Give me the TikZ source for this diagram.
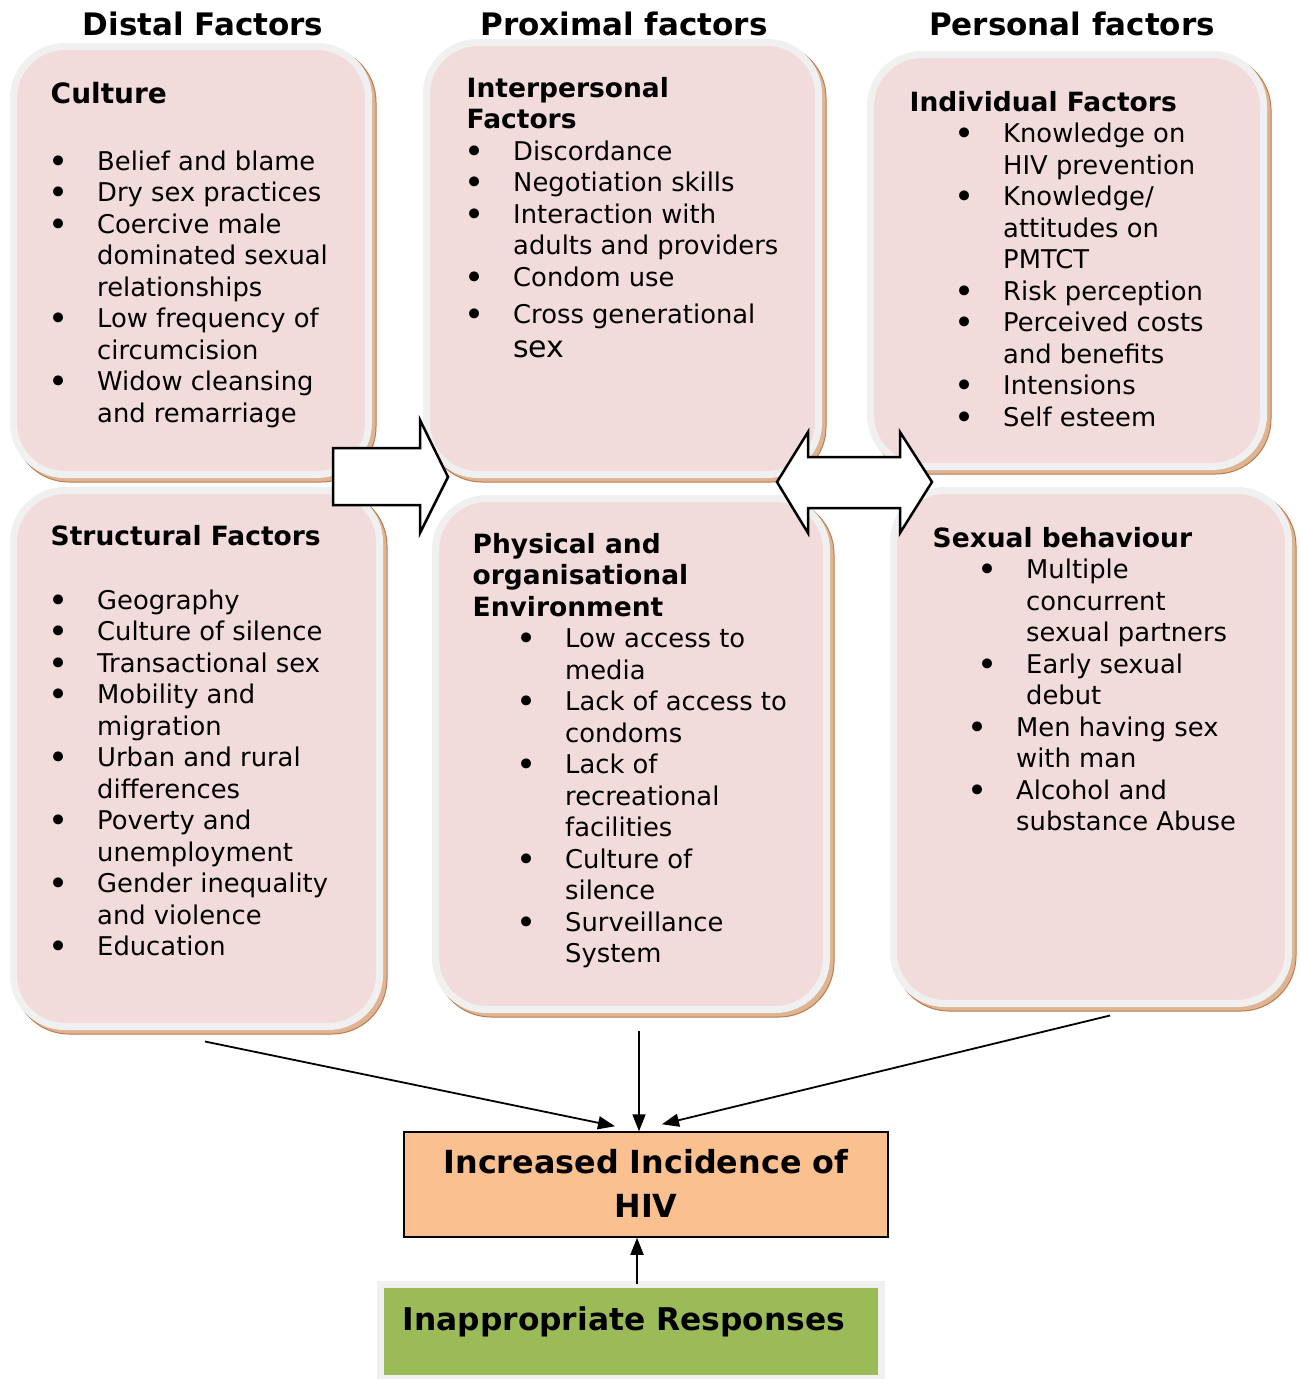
\documentclass[tikz,border=0pt]{standalone}
\usepackage{fontspec}
\setmainfont{DejaVu Sans}
\usetikzlibrary{arrows.meta,calc}
\definecolor{pinkfill}{HTML}{F2DCDB}
\definecolor{rimgray}{HTML}{F0F0F0}
\definecolor{shadowtan}{HTML}{DFB495}
\definecolor{shadowline}{HTML}{BE7A48}
\definecolor{orangefill}{HTML}{FAC090}
\definecolor{greenfill}{HTML}{9BBB59}
\newlength\bulw
\newlength\indw
\newcommand\bigbul{\hspace*{-2.5pt}\raisebox{-3pt}{\fontsize{34}{34}\selectfont •}}
\newcommand\bitem[2][\indw]{\hspace*{#1}\makebox[\bulw][l]{\bigbul}#2}
\newcommand\citem[2][\indw]{\hspace*{#1}\hspace*{\bulw}#2}
\newcommand\ttl[1]{{\fontsize{26.5}{31.5}\selectfont\bfseries #1}}
\newcommand\factorbox[5]{%
  \path[boxshadow] (#2+4,#3+4) rectangle (#4+4,#5+4);
  \node[factor, minimum width={#4-#2-7}, minimum height={#5-#3-7}] (#1) at ({(#2+#4)/2},{(#3+#5)/2}) {};
}
\begin{document}
\begin{tikzpicture}[x=1pt,y=-1pt,
  factor/.style={draw=rimgray, line width=7pt, fill=pinkfill, rounded corners=51.5pt, inner sep=0pt},
  boxshadow/.style={fill=shadowtan, draw=shadowline, line width=1pt, rounded corners=55pt},
  body/.style={anchor=base west, inner sep=0pt, font=\fontsize{25.8}{31.5}\selectfont},
  header/.style={anchor=base, inner sep=0pt, font=\fontsize{31}{36}\selectfont\bfseries},
  blockarrow/.style={draw=black, line width=2.5pt, fill=white, line join=miter},
  link/.style={draw=black, line width=1.8pt, -{Triangle[length=17pt,width=13pt]}},
  ]
\useasboundingbox[fill=white] (0,0) rectangle (1299,1379);

% headers
\node[header] (hdistal) at (203,35) {Distal Factors};
\node[header] (hprox) at (624,35) {Proximal factors};
\node[header] (hpers) at (1072,35) {Personal factors};

% factor boxes
\factorbox{culture}{10}{43}{372}{478}
\factorbox{interp}{423}{39}{822}{478}
\factorbox{indiv}{867}{51}{1267}{470}
\factorbox{struct}{10}{487}{383}{1030}
\factorbox{phys}{432}{495}{830}{1013}
\factorbox{sexual}{890}{487}{1292}{1007}

% texts
\node[body] (culturetxt) at (50.5,103) {\setlength\bulw{46.5pt}\setlength\indw{0pt}%
\begin{tabular}[t]{@{}l@{}}
{\fontsize{28}{31.5}\selectfont\bfseries Culture}\\[35.5pt]
\bitem{Belief and blame}\\
\bitem{Dry sex practices}\\
\bitem{Coercive male}\\
\citem{dominated sexual}\\
\citem{relationships}\\
\bitem{Low frequency of}\\
\citem{circumcision}\\
\bitem{Widow cleansing}\\
\citem{and remarriage}
\end{tabular}};

\node[body] (interptxt) at (466.5,97) {\setlength\bulw{46.5pt}\setlength\indw{0pt}%
\begin{tabular}[t]{@{}l@{}}
\ttl{Interpersonal}\\
\ttl{Factors}\\
\bitem{Discordance}\\
\bitem{Negotiation skills}\\
\bitem{Interaction with}\\
\citem{adults and providers}\\
\bitem{Condom use}\\[5.5pt]
\bitem{Cross generational}\\[2.5pt]
\citem{\fontsize{30}{34}\selectfont sex}
\end{tabular}};

\node[body] (indivtxt) at (909.5,111) {\setlength\bulw{46pt}\setlength\indw{47.5pt}%
\begin{tabular}[t]{@{}l@{}}
\ttl{Individual Factors}\\
\bitem{Knowledge on}\\
\citem{HIV prevention}\\
\bitem{Knowledge/}\\
\citem{attitudes on}\\
\citem{PMTCT}\\
\bitem{Risk perception}\\
\bitem{Perceived costs}\\
\citem{and benefits}\\
\bitem{Intensions}\\
\bitem{Self esteem}
\end{tabular}};

\node[body] (structtxt) at (50.5,545) {\setlength\bulw{46.5pt}\setlength\indw{0pt}%
\begin{tabular}[t]{@{}l@{}}
\ttl{Structural Factors}\\[32.5pt]
\bitem{Geography}\\
\bitem{Culture of silence}\\
\bitem{Transactional sex}\\
\bitem{Mobility and}\\
\citem{migration}\\
\bitem{Urban and rural}\\
\citem{differences}\\
\bitem{Poverty and}\\
\citem{unemployment}\\
\bitem{Gender inequality}\\
\citem{and violence}\\
\bitem{Education}
\end{tabular}};

\node[body] (physttxt) at (472.5,553) {\setlength\bulw{46pt}\setlength\indw{46.5pt}%
\begin{tabular}[t]{@{}l@{}}
\ttl{Physical and}\\
\ttl{organisational}\\
\ttl{Environment}\\
\bitem{Low access to}\\
\citem{media}\\
\bitem{Lack of access to}\\
\citem{condoms}\\
\bitem{Lack of}\\
\citem{recreational}\\
\citem{facilities}\\
\bitem{Culture of}\\
\citem{silence}\\
\bitem{Surveillance}\\
\citem{System}
\end{tabular}};

\node[body] (sexualtxt) at (932.5,547) {\setlength\bulw{46pt}\setlength\indw{47.5pt}%
\begin{tabular}[t]{@{}l@{}}
\ttl{Sexual behaviour}\\
\bitem{Multiple}\\
\citem{concurrent}\\
\citem{sexual partners}\\
\bitem{Early sexual}\\
\citem{debut}\\
\bitem[37.5pt]{Men having sex}\\
\citem[37.5pt]{with man}\\
\bitem[37.5pt]{Alcohol and}\\
\citem[37.5pt]{substance Abuse}
\end{tabular}};

% outcome boxes
\node[draw=black, line width=1.5pt, fill=orangefill, minimum width=484pt, minimum height=105pt, inner sep=0pt] (hiv) at (646,1184.5) {};
\node[anchor=base, inner sep=0pt, font=\fontsize{31.8}{44}\selectfont\bfseries] (hivtxt) at (646,1173)
  {\begin{tabular}[t]{@{}c@{}}Increased Incidence of\\HIV\end{tabular}};

\node[draw=rimgray, line width=7pt, fill=greenfill, minimum width=501pt, minimum height=94pt, inner sep=0pt] (resp) at (631,1331.5) {};
\node[anchor=base west, inner sep=0pt, font=\fontsize{31.3}{36}\selectfont\bfseries] (resptxt) at (402.5,1330) {Inappropriate Responses};

% block arrows
\draw[blockarrow] (333,448) -- (420,448) -- (420,420) -- (448,477) -- (420,533) -- (420,505) -- (333,505) -- cycle;
\draw[blockarrow] (777,482) -- (808,432) -- (808,457) -- (900,457) -- (900,432) -- (932,482) -- (900,533) -- (900,508) -- (808,508) -- (808,533) -- cycle;

% connectors
\coordinate (s1) at ($(struct.south)+(8.5,11.5)$);
\coordinate (e1) at ($(hiv.north)+(-31,-5)$);
\coordinate (s2) at ($(phys.south)+(8,17.5)$);
\coordinate (e2) at ($(hiv.north)+(-7,0)$);
\coordinate (s3) at ($(sexual.south)+(19,8.5)$);
\coordinate (e3) at ($(hiv.north)+(16,-7)$);
\coordinate (s4) at ($(resp.north)+(6,3)$);
\coordinate (e4) at ($(hiv.south)+(-9,0)$);
\draw[link] (s1) -- (e1);
\draw[link] (s2) -- (e2);
\draw[link] (s3) -- (e3);
\draw[link] (s4) -- (e4);
\end{tikzpicture}
\end{document}
